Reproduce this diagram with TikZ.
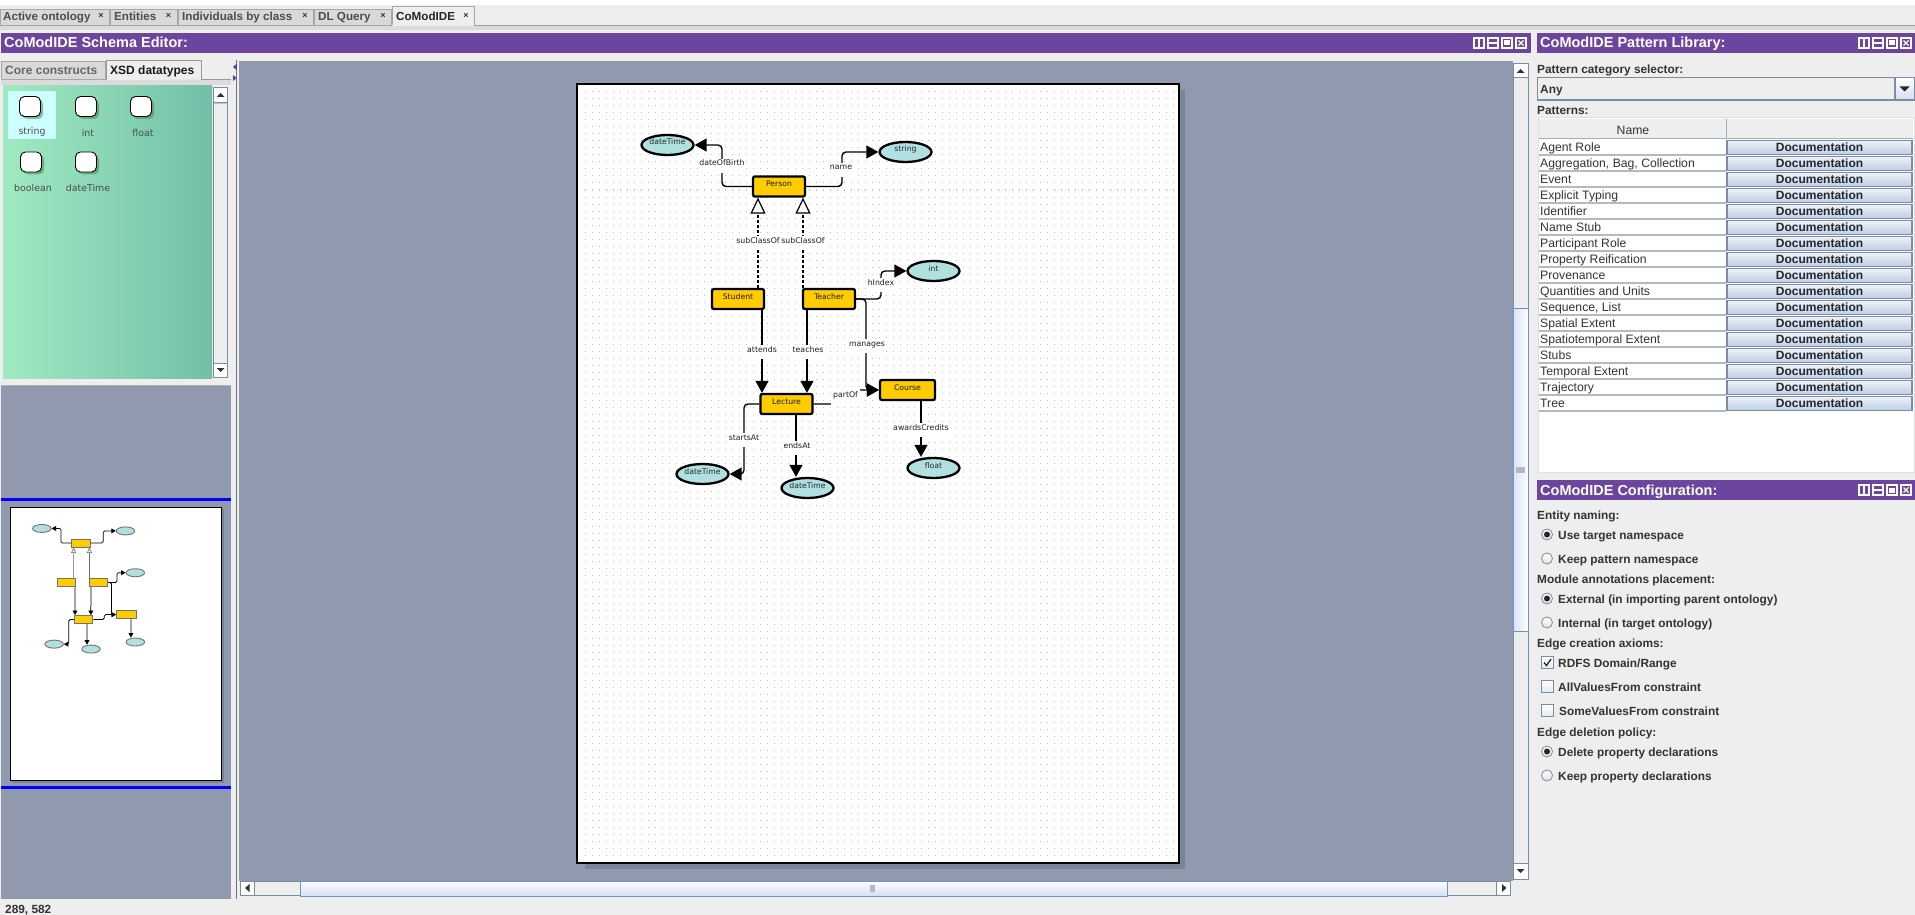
\documentclass[tikz,border=0pt]{standalone}
\usepackage{fontspec}
\setmainfont{Liberation Sans}
\newfontfamily\djfam{DejaVu Sans}
\usetikzlibrary{arrows.meta,shapes.geometric}
\definecolor{uibg}{HTML}{EEEEEE}
\definecolor{canvasc}{HTML}{9099AE}
\definecolor{shadowc}{HTML}{7B8398}
\definecolor{purp}{HTML}{6C459E}
\definecolor{cls}{HTML}{FFCC00}
\definecolor{dtc}{HTML}{B0E0E0}
\definecolor{txt}{HTML}{333333}
\definecolor{ln}{HTML}{7A8DA3}
\definecolor{blueln}{HTML}{6C92CF}
\definecolor{palL}{HTML}{A0EAC2}
\definecolor{palR}{HTML}{72BFA8}
\definecolor{palH}{HTML}{CCFFFF}
\tikzset{
  uit/.style={anchor=base west,inner sep=0pt,yshift=-4.2pt,text=txt,font=\fontsize{11.85}{14}\selectfont\bfseries},
  uin/.style={anchor=base west,inner sep=0pt,yshift=-4.2pt,text=txt,font=\fontsize{12.2}{14}\selectfont},
  docb/.style={anchor=center,inner sep=0pt,minimum width=185,minimum height=14,draw=ln,line width=1.3,top color=blueln!12,middle color=white,bottom color=blueln!45,text=black!85,font=\fontsize{12}{14}\selectfont\bfseries},
  hdr/.style={fill=purp,draw=none},
  hdrt/.style={anchor=base west,inner sep=0pt,yshift=-5pt,text=white,font=\fontsize{14.5}{16}\selectfont\bfseries},
  tabbox/.style={draw=black!35,line width=.8,fill=black!15},
  tabt/.style={anchor=base west,inner sep=0pt,yshift=-4.2pt,text=black!70,font=\fontsize{11.65}{14}\selectfont\bfseries},
  paltabt/.style={anchor=base west,inner sep=0pt,yshift=-4.2pt,text=black!70,font=\fontsize{12}{14}\selectfont\bfseries},
  clsnode/.style={draw=black,fill=cls,line width=2.3,rounded corners=2,minimum width=52,minimum height=20,inner sep=0pt,text height=0pt,text depth=0pt,text=black!90,font=\djfam\fontsize{7.7}{9}\selectfont},
  dtnode/.style={draw=black,fill=dtc,line width=2.3,ellipse,minimum width=52,minimum height=20,inner sep=0pt,text height=0pt,text depth=0pt,text=black!85,font=\djfam\fontsize{7.7}{9}\selectfont},
  edgeline/.style={draw=black,line width=1.4,rounded corners=4,-{Triangle[length=12,width=13]}},
  subedge/.style={draw=black,line width=1.2,dash pattern=on 3 off 2,-{Triangle[open,fill=white,length=16,width=15,line width=1.2]}},
  edgelabel/.style={fill=white,inner xsep=.8pt,inner ysep=0pt,minimum height=14,text height=0pt,text depth=0pt,text=black!88,font=\djfam\fontsize{7.8}{9}\selectfont},
  palbox/.style={draw=black,fill=white,line width=.9,rounded corners=5,minimum width=21,minimum height=20,inner sep=0pt},
  palshadow/.style={fill=black!45!green!40!gray,opacity=.55,rounded corners=5,minimum width=21,minimum height=20,inner sep=0pt},
  pallab/.style={inner sep=0pt,text=black!70,font=\djfam\fontsize{9.4}{11}\selectfont},
  minic/.style={draw=black!55,fill=cls,line width=.9,minimum width=18.5,minimum height=8,inner sep=0pt},
  minid/.style={draw=black!55,fill=dtc,line width=.9,ellipse,minimum width=18.5,minimum height=8,inner sep=0pt},
  miniedge/.style={draw=black,line width=.75,rounded corners=1.5,-{Triangle[length=4.5,width=4.8]}},
  minisub/.style={draw=black!60,line width=.7,-{Triangle[open,fill=white,length=5.5,width=5,line width=.6]}},
  radiob/.style={circle,draw=ln,line width=.8,inner sep=0pt,minimum size=11,top color=white,bottom color=black!12},
  checkb/.style={draw=ln,line width=.9,inner sep=0pt,minimum size=12,top color=white,bottom color=blueln!20},
  scrollb/.style={draw=ln,line width=.7,fill=uibg},
  thumbb/.style={draw=blueln,line width=.9},
}
\newcommand{\winbtn}[2]{%
  \draw[white,line width=1.1] (#1,#2) rectangle ++(10,10);
}
\newcommand{\mx}[1]{\fpeval{10+(#1-577)*0.3516}}
\newcommand{\my}[1]{\fpeval{507+(#1-84)*0.3516}}
\begin{document}
\begin{tikzpicture}[x=1pt,y=-1pt,line cap=butt]
\useasboundingbox (0,0) rectangle (1915,915);
\fill[uibg] (0,0) rectangle (1915,915);
% top strip
\fill[white] (0,0) rectangle (1915,5);
\fill[black!14] (0,26) rectangle (1915,30);
\draw[black!38,line width=.9] (474,25.5) -- (1915,25.5);
% tabs
\draw[tabbox] (0,9) rectangle (109,25.5);
\draw[tabbox] (110,9) rectangle (177,25.5);
\draw[tabbox] (178,9) rectangle (313,25.5);
\draw[tabbox] (314,9) rectangle (391,25.5);
\draw[draw=black!35,line width=.9,fill=uibg] (392,25.5) -- (392,6.5) -- (474,6.5) -- (474,25.5);
\node[tabt] (t1) at (3,16) {Active ontology};
\node[tabt] (t2) at (114,16) {Entities};
\node[tabt] (t3) at (182,16) {Individuals by class};
\node[tabt] (t4) at (318,16) {DL Query};
\node[tabt,text=black!85] (t5) at (396,16) {CoModIDE};
\foreach \x/\n in {101/a,168.5/b,305/c,383/d,466/e}
  \node[inner sep=0pt,font=\fontsize{9}{9}\selectfont\bfseries,text=black!80] (tabx\n) at (\x,16) {×};
% purple headers
\fill[hdr] (1,33) rectangle (1531,53);
\fill[hdr] (1537,33) rectangle (1915,53);
\fill[hdr] (1537,480) rectangle (1915,500);
\node[hdrt] (h1) at (4,43) {CoModIDE Schema Editor:};
\node[hdrt] (h2) at (1540,43) {CoModIDE Pattern Library:};
\node[hdrt] (h3) at (1540,490) {CoModIDE Configuration:};
\foreach \by/\ox in {38/0,38/-385,485/0}{
 \foreach \bx in {1859,1873,1887,1901}{ \winbtn{\bx+\ox}{\by} }
 \draw[white,line width=1.1] (1864+\ox,\by) -- ++(0,10);
 \draw[white,line width=1.1] (1873+\ox,\by+5) -- ++(10,0);
 \fill[white] (1889+\ox,\by+2.5) rectangle ++(6,5);
 \draw[white,line width=1.1] (1903.5+\ox,\by+2.5) -- ++(5,5) (1908.5+\ox,\by+2.5) -- ++(-5,5);
}
% left palette tabs
\fill[black!14] (1,79) rectangle (231,85);
\draw[tabbox] (1,61) rectangle (105.5,79);
\draw[draw=black!40,line width=.9,fill=uibg] (106,80) -- (106,60.5) -- (201,60.5) -- (201,79.5) -- (231,79.5);
\node[paltabt,text=black!60] (tc) at (5,70) {Core constructs};
\node[paltabt,text=black!90] (tx) at (110,70) {XSD datatypes};
% palette
\shade[left color=palL,right color=palR] (3,86) rectangle (212,378);
\fill[palH] (8,91) rectangle (56,139);
\foreach \x/\y/\lx/\ly/\t/\n in {30/106.5/32/132/string/pa,86/106.5/88/132.5/int/pb,141/106.5/143/132.5/float/pc,31/162/33/188/boolean/pd,86/162/88/188/dateTime/pe}{
  \node[palshadow] (s\n) at (\x+2.5,\y+2.5) {};
  \node[palbox] (\n) at (\x,\y) {};
  \node[pallab] (l\n) at (\lx,\ly) {\t};
}
% palette scrollbar
\draw[scrollb] (213.5,87.5) rectangle (227.5,377.5);
\draw[scrollb,fill=white] (213.5,87.5) rectangle (227.5,102);
\draw[blueln!50,line width=.8] (214,103) -- (227,103);
\draw[scrollb,fill=white] (213.5,363) rectangle (227.5,377.5);
\fill[black!80] (216.5,97) -- (224.5,97) -- (220.5,93) -- cycle;
\fill[black!80] (216.5,368) -- (224.5,368) -- (220.5,372) -- cycle;
% minimap panel
\draw[black!30,line width=1] (1,385.5) -- (231,385.5);
\fill[canvasc] (1,386) rectangle (231,899);
\fill[blue] (1,497.5) rectangle (231,501);
\fill[blue] (1,785.5) rectangle (231,789);
\fill[shadowc] (12,509) rectangle (224,783);
\draw[fill=white,draw=black,line width=.9] (10.5,507) rectangle (221.5,780.5);
% splitter
\draw[black!55,line width=.8] (236.5,60) -- (236.5,899);
\fill[blue!50!gray] (236.5,64) -- (233,67) -- (236.5,70) -- cycle;
\fill[blue!50!gray] (233,75) -- (236.5,78) -- (233,81) -- cycle;
% main canvas
\fill[canvasc] (239,61) rectangle (1513,881);
% vertical scrollbar
\draw[scrollb] (1513.5,63) rectangle (1528,879);
\draw[scrollb,fill=white] (1513.5,63) rectangle (1528,77);
\draw[scrollb,fill=white] (1513.5,863) rectangle (1528,879);
\shade[thumbb,left color=blueln!25,right color=white] (1513.5,308) rectangle (1528,631);
\fill[canvasc!70] (1516,467) rectangle (1525,473);
\fill[black!80] (1516.5,73) -- (1524.5,73) -- (1520.5,69) -- cycle;
\fill[black!80] (1516.5,869) -- (1524.5,869) -- (1520.5,873) -- cycle;
% horizontal scrollbar
\draw[scrollb] (254,881.5) rectangle (1496,895.5);
\draw[scrollb,fill=white] (240.5,881.5) rectangle (254.5,895.5);
\draw[scrollb,fill=white] (1496,881.5) rectangle (1510.5,895.5);
\shade[thumbb,top color=white,bottom color=blueln!30] (300,881) rectangle (1447,896);
\fill[canvasc!70] (870,885) rectangle (875,892);
\fill[black!80] (249.5,884) -- (249.5,892) -- (245,888) -- cycle;
\fill[black!80] (1502,884) -- (1502,892) -- (1506.5,888) -- cycle;
% drawing page
\fill[shadowc] (585,90) rectangle (1185,869);
\fill[white] (577,84) rectangle (1179,863);
\foreach \ry in {85,92,...,862}
  \draw[black!24,line width=1,dash pattern=on 1 off 6] (585,\ry) -- (1178,\ry);
\draw[black,line width=1.25] (577,84) rectangle (1179,863);
% class and datatype nodes
\node[clsnode,minimum width=52] (person) at (779,186.5) {Person};
\node[clsnode] (student) at (738,299) {Student};
\node[clsnode] (teacher) at (829,299) {Teacher};
\node[clsnode] (lecture) at (786.5,404) {Lecture};
\node[clsnode,minimum width=55] (course) at (907.5,390) {Course};
\node[dtnode] (dt1) at (667.5,145) {dateTime};
\node[dtnode] (str) at (905.5,152) {string};
\node[dtnode] (intn) at (933.5,271) {int};
\node[dtnode] (dt2) at (702.5,474) {dateTime};
\node[dtnode] (dt3) at (807.5,488) {dateTime};
\node[dtnode] (flt) at (933.5,468) {float};
% connectors
\draw[edgeline] (person.west) -- (722,186.5) |- (dt1.east);
\draw[edgeline] (person.east) -- (842,186.5) |- (str.west);
\draw[edgeline] (teacher.east) -- (881,299) |- (intn.west);
\draw[edgeline] (teacher.east) -- (866,299) |- (course.west);
\draw[edgeline] (lecture.east) -- (845,404) |- (course.west);
\draw[edgeline] (lecture.west) -- (744,404) |- (dt2.east);
\draw[edgeline] ([xshift=24]student.south) -- ([xshift=-24.5]lecture.north);
\draw[edgeline] ([xshift=-22]teacher.south) -- ([xshift=20.5]lecture.north);
\draw[edgeline] ([xshift=9.5]lecture.south) -- ([xshift=-11.5]dt3.north);
\draw[edgeline] ([xshift=13.5]course.south) -- ([xshift=-12.5]flt.north);
\draw[subedge] ([xshift=20]student.north) -- ([xshift=-21]person.south);
\draw[subedge] ([xshift=-26]teacher.north) -- ([xshift=24]person.south);
% connector labels
\node[edgelabel] (lb1) at (722,166) {dateOfBirth};
\node[edgelabel] (lb2) at (841,170) {name};
\node[edgelabel] (lb3) at (758,243) {subClassOf};
\node[edgelabel] (lb4) at (803,243) {subClassOf};
\node[edgelabel] (lb5) at (881,285) {hIndex};
\node[edgelabel] (lb6) at (867,346) {manages};
\node[edgelabel] (lb7) at (762,352) {attends};
\node[edgelabel] (lb8) at (808,352) {teaches};
\node[edgelabel,minimum height=17,inner xsep=2pt] (lb9) at (845.5,397) {partOf};
\node[edgelabel] (lb10) at (744,440) {startsAt};
\node[edgelabel] (lb11) at (797,448) {endsAt};
\node[edgelabel] (lb12) at (921,430) {awardsCredits};
% minimap
\node[minic] (mperson) at (\mx{779},\my{186.5}) {};
\node[minic] (mstudent) at (\mx{738},\my{299}) {};
\node[minic] (mteacher) at (\mx{829},\my{299}) {};
\node[minic] (mlecture) at (\mx{786.5},\my{404}) {};
\node[minic,minimum width=19.5] (mcourse) at (\mx{907.5},\my{390}) {};
\node[minid] (mdt1) at (\mx{667.5},\my{145}) {};
\node[minid] (mstr) at (\mx{905.5},\my{152}) {};
\node[minid] (mint) at (\mx{933.5},\my{271}) {};
\node[minid] (mdt2) at (\mx{702.5},\my{474}) {};
\node[minid] (mdt3) at (\mx{807.5},\my{488}) {};
\node[minid] (mflt) at (\mx{933.5},\my{468}) {};
\draw[miniedge] (mperson.west) -- (\mx{722},\my{186.5}) |- (mdt1.east);
\draw[miniedge] (mperson.east) -- (\mx{842},\my{186.5}) |- (mstr.west);
\draw[miniedge] (mteacher.east) -- (\mx{881},\my{299}) |- (mint.west);
\draw[miniedge] (mteacher.east) -- (\mx{866},\my{299}) |- (mcourse.west);
\draw[miniedge] (mlecture.east) -- (\mx{845},\my{404}) |- (mcourse.west);
\draw[miniedge] (mlecture.west) -- (\mx{744},\my{404}) |- (mdt2.east);
\draw[miniedge] ([xshift=8.4]mstudent.south) -- ([xshift=-8.6]mlecture.north);
\draw[miniedge] ([xshift=-7.7]mteacher.south) -- ([xshift=7.2]mlecture.north);
\draw[miniedge] ([xshift=3.3]mlecture.south) -- ([xshift=-4]mdt3.north);
\draw[miniedge] ([xshift=4.7]mcourse.south) -- ([xshift=-4.4]mflt.north);
\draw[minisub] ([xshift=7]mstudent.north) -- ([xshift=-7.4]mperson.south);
\draw[minisub] ([xshift=-9.1]mteacher.north) -- ([xshift=8.4]mperson.south);
% pattern library
\node[uit] (pcs) at (1537,69) {Pattern category selector:};
\draw[draw=ln,line width=1.3,fill=uibg] (1537.5,77.5) rectangle (1895,100);
\shade[draw=ln,line width=1.3,top color=white,bottom color=blueln!30] (1895,77.5) rectangle (1914.5,100);
\fill[black!85] (1899.5,86.5) -- (1909.5,86.5) -- (1904.5,91.5) -- cycle;
\node[uit] (any) at (1540,89) {Any};
\node[uit] (pat) at (1537,110) {Patterns:};
\fill[white,draw=black!12,line width=1] (1538,118) rectangle (1914,472);
\fill[uibg] (1539,119) rectangle (1913,138);
\draw[ln!70,line width=1] (1539,138.5) -- (1913,138.5) (1726,119) -- (1726,138);
\node[inner sep=0pt,text=txt,font=\fontsize{12.2}{14}\selectfont] (nm) at (1633,130) {Name};
\foreach \t [count=\i from 0] in {Agent Role,{Aggregation, Bag, Collection},Event,Explicit Typing,Identifier,Name Stub,Participant Role,Property Reification,Provenance,Quantities and Units,{Sequence, List},Spatial Extent,Spatiotemporal Extent,Stubs,Temporal Extent,Trajectory,Tree}{
  \pgfmathsetmacro\yy{147+16*\i}
  \draw[ln!60,line width=1.3] (1539,\yy+8) -- (1726,\yy+8);
  \node[uin] (r\i) at (1540,\yy) {\t};
  \node[docb] (b\i) at (1819.5,\yy+.5) {Documentation};
}
% configuration
\foreach \t/\y/\n in {Entity naming:/515/ca,Module annotations placement:/579/cb,Edge creation axioms:/643/cc,Edge deletion policy:/732/cd}
  \node[uit] (\n) at (1537,\y) {\t};
\foreach \t/\y/\n in {Use target namespace/535/ra,Keep pattern namespace/559/rb,External (in importing parent ontology)/599/rc,Internal (in target ontology)/623/rd,Delete property declarations/752/re,Keep property declarations/776/rf}{
  \node[radiob] (x\n) at (1547,\y-.5) {};
  \node[uit] (\n) at (1558,\y) {\t};
}
\foreach \n in {xra,xrc,xre} \fill[black!85] (\n.center) circle (3);
\foreach \t/\y/\x/\n in {{RDFS Domain/Range}/663/1558/ka,AllValuesFrom constraint/687/1558/kb,SomeValuesFrom constraint/711/1559/kc}{
  \node[checkb] (x\n) at (1547.5,\y-.5) {};
  \node[uit] (\n) at (\x,\y) {\t};
}
\draw[black!85,line width=1.3] (1544,662.5) -- (1546.5,665.5) -- (1551,659);
% status
\node[uit] (st) at (5,909) {289, 582};
\end{tikzpicture}
\end{document}
